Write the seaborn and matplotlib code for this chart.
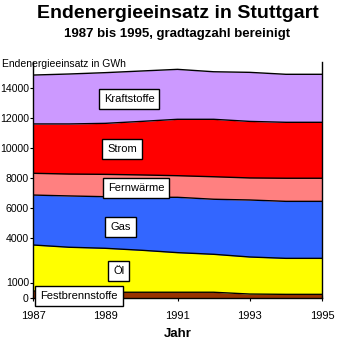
import numpy as np
import pandas as pd
import matplotlib
matplotlib.use("Agg")
import matplotlib.pyplot as plt
import seaborn as sns

years = [1987, 1988, 1989, 1990, 1991, 1992, 1993, 1994, 1995]
festbrennstoffe = [430, 370, 350, 350, 350, 350, 230, 210, 210]
oel = [3070, 2980, 2930, 2800, 2640, 2530, 2470, 2400, 2400]
gas = [3330, 3420, 3440, 3530, 3690, 3670, 3800, 3800, 3800]
fernwaerme = [1450, 1460, 1490, 1490, 1440, 1500, 1470, 1540, 1540]
strom = [3290, 3340, 3400, 3570, 3760, 3830, 3770, 3730, 3730]
kraftstoffe = [3260, 3330, 3380, 3360, 3330, 3170, 3270, 3200, 3200]

series_names = ["Festbrennstoffe", "Öl", "Gas", "Fernwärme", "Strom", "Kraftstoffe"]
series_values = [festbrennstoffe, oel, gas, fernwaerme, strom, kraftstoffe]
colors = ["#993300", "#FFFF00", "#3366FF", "#FF8080", "#FF0000", "#CC99FF"]

ytick_values = [0, 1000, 4000, 6000, 8000, 10000, 12000, 14000]
xtick_values = [1987, 1989, 1991, 1993, 1995]

# label anchor positions (data coords)
label_pos = {
    "Kraftstoffe": (1989.66, 13230),
    "Strom": (1989.47, 9900),
    "Fernwärme": (1989.85, 7300),
    "Gas": (1989.42, 4700),
    "Öl": (1989.37, 1800),
    "Festbrennstoffe": (1988.27, 130),
}

sns.set_theme(style="white")
plt.rcParams['font.family'] = ['Liberation Sans', 'DejaVu Sans']
for k in ["text.color", "axes.labelcolor", "xtick.color", "ytick.color"]:
    plt.rcParams[k] = "black"

fig = plt.figure(figsize=(3.5, 3.51), dpi=100)
ax = fig.add_axes([33/350, 1-297.5/351, (322-33)/350, (297.5-62)/351])

ax.stackplot(years, *series_values, colors=colors, linewidth=0)

df = pd.DataFrame({"Jahr": years})
cum = np.zeros(len(years))
for name, vals in zip(series_names, series_values):
    cum = cum + np.array(vals)
    df[name] = cum
long = df.melt(id_vars="Jahr", var_name="Serie", value_name="Wert")
sns.lineplot(data=long, x="Jahr", y="Wert", units="Serie", estimator=None,
             color="black", linewidth=1.0, ax=ax, legend=False)

ax.set_xlim(1987, 1995)
ax.set_ylim(0, 15700)
ax.set_xticks(xtick_values)
ax.set_xticklabels([str(v) for v in xtick_values], fontsize=8)
ax.set_yticks(ytick_values)
ax.set_yticklabels([str(v) for v in ytick_values], fontsize=7.6)
ax.tick_params(axis="both", direction="inout", length=4, width=0.8, color="black",
               bottom=True, left=True)
ax.tick_params(axis="y", pad=1)
ax.tick_params(axis="x", pad=8)
ax.spines["top"].set_visible(False)
for s in ["left", "right", "bottom"]:
    ax.spines[s].set_color("black")
    ax.spines[s].set_linewidth(1.0)
ax.set_ylabel("")
ax.set_xlabel("Jahr", fontsize=9.5, fontweight="bold", labelpad=5)

for name, (x, y) in label_pos.items():
    ax.text(x, y, name, fontsize=8, ha="center", va="center", zorder=5,
            bbox=dict(boxstyle="square,pad=0.45", facecolor="white", edgecolor="black", linewidth=1.0),
            clip_on=False)

fig.text(178/350, 1-13/351, "Endenergieeinsatz in Stuttgart", fontsize=14, fontweight="bold",
         ha="center", va="center")
fig.text(177/350, 1-34/351, "1987 bis 1995, gradtagzahl bereinigt", fontsize=9.5, fontweight="bold",
         ha="center", va="center")
fig.text(2/350, 1-64/351, "Endenergieeinsatz in GWh", fontsize=7.5, ha="left", va="center")

fig.savefig("out.png", dpi=100, facecolor="white")
